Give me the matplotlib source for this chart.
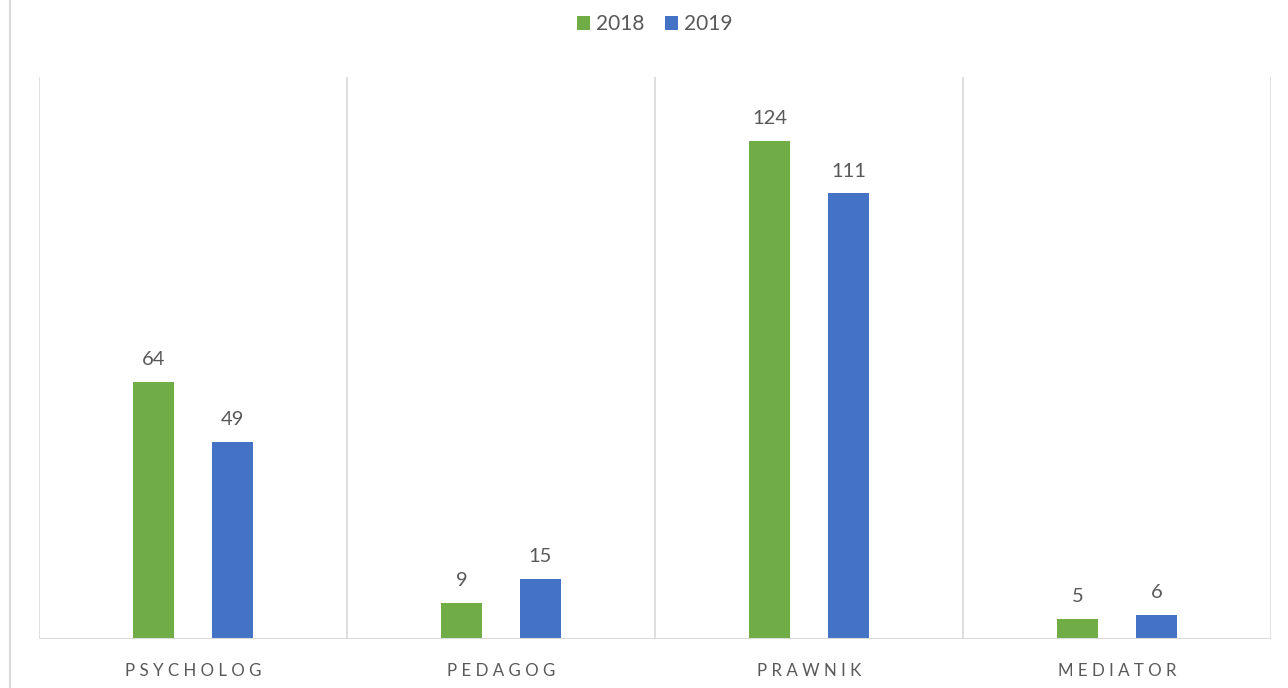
import numpy as np
import matplotlib.pyplot as plt
from matplotlib.lines import Line2D

plt.rcParams['font.family'] = ['Lato', 'DejaVu Sans']

categories = ['PSYCHOLOG', 'PEDAGOG', 'PRAWNIK', 'MEDIATOR']
years = ['2018', '2019']
values_2018 = [64, 9, 124, 5]
values_2019 = [49, 15, 111, 6]

green = '#70AD47'
blue = '#4472C4'
text_c = '#595959'
grid_c = '#D9D9D9'

fig = plt.figure(figsize=(12.88, 6.88), dpi=100)
ax = fig.add_axes([39 / 1288, 49 / 688, 1232 / 1288, 562 / 688])

x = np.arange(len(categories))
w = 0.133
off = 0.128
b1 = ax.bar(x - off, values_2018, w, color=green, label=years[0])
b2 = ax.bar(x + off, values_2019, w, color=blue, label=years[1])

for bars, vals in ((b1, values_2018), (b2, values_2019)):
    for bar, v in zip(bars, vals):
        ax.annotate(str(v), (bar.get_x() + bar.get_width() / 2, v),
                    xytext=(0, 10), textcoords='offset points',
                    ha='center', va='bottom', fontsize=14.5, color=text_c)

ax.set_xlim(-0.5, len(categories) - 0.5)
ax.set_ylim(0, 140)
for b in np.arange(-0.5, len(categories), 1):
    ax.axvline(b, color=grid_c, lw=1.2, zorder=0)

for s in ax.spines.values():
    s.set_visible(False)
ax.axhline(0, color=grid_c, lw=1.5, zorder=3)
ax.set_yticks([])
ax.set_xticks(x)
ax.set_xticklabels([' '.join(c) for c in categories], fontsize=12.2, color=text_c)
ax.tick_params(axis='x', length=0, pad=17)

ax.legend(loc='upper center', bbox_to_anchor=(0.5, 1.145), ncol=2, frameon=False,
          fontsize=15, labelcolor=text_c, handlelength=0.6, handleheight=0.6,
          handletextpad=0.3, columnspacing=1.0)

fig.add_artist(Line2D([9.5 / 1288, 9.5 / 1288], [0, 1], color=grid_c, lw=1.5,
                      transform=fig.transFigure))

fig.savefig('out.png', dpi=100)
